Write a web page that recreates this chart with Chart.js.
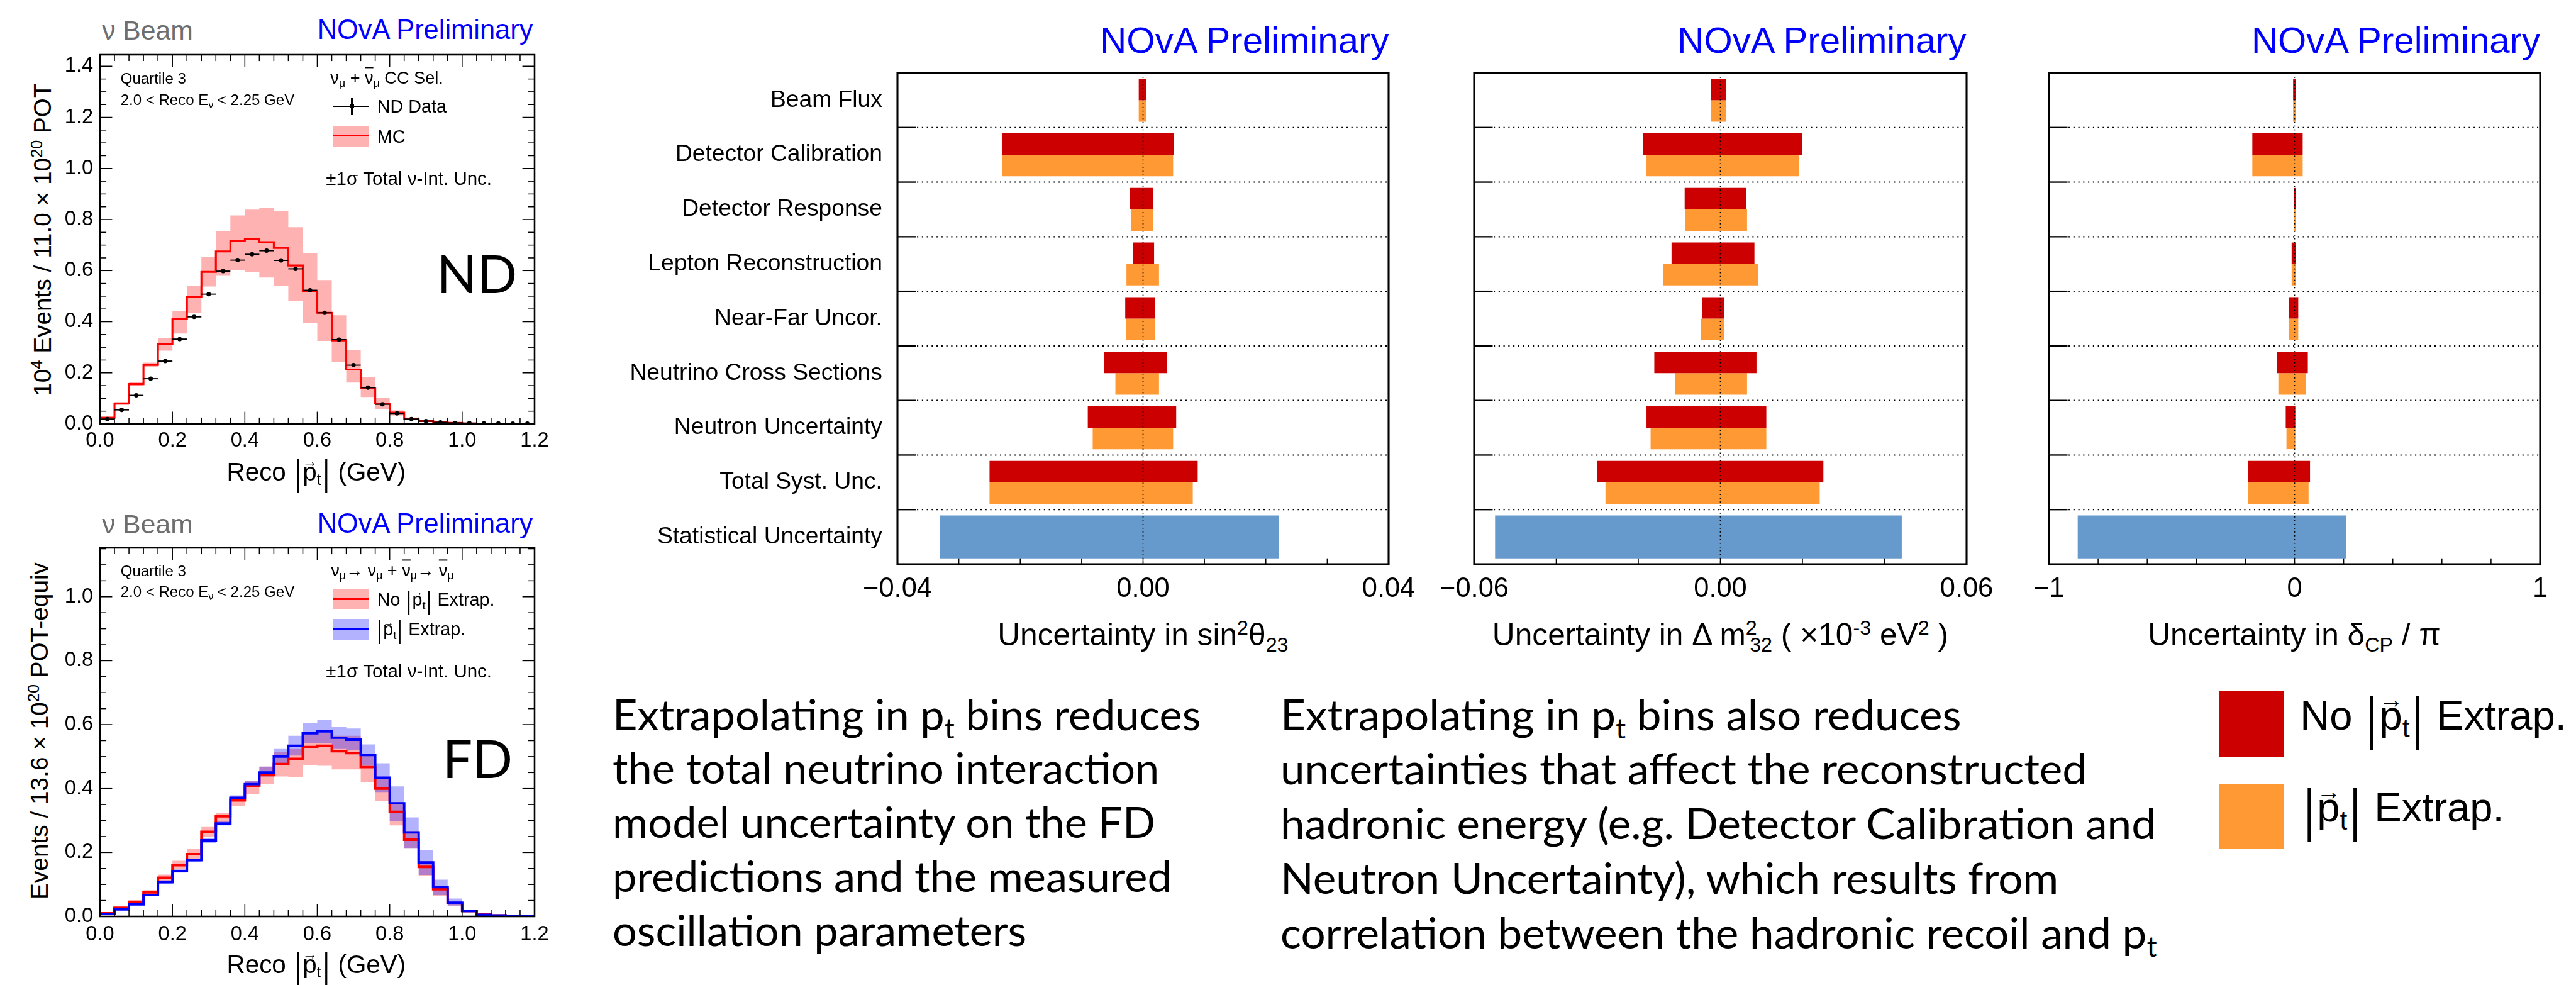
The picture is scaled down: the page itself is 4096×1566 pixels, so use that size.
<!DOCTYPE html>
<html>
<head>
<meta charset="utf-8">
<script src="https://cdn.jsdelivr.net/npm/chart.js@4.4.0/dist/chart.umd.min.js"></script>
<style>
  html, body { margin: 0; padding: 0; background: #fff; }
  #page { position: relative; width: 4096px; height: 1566px; overflow: hidden; background: #fff; }
  canvas { position: absolute; }
  .t { position: absolute; white-space: nowrap; line-height: 1; font-family: "Liberation Sans", Arial, sans-serif; color: #000; }
  .t sub, .t sup { font-size: 0.65em; position: relative; vertical-align: baseline; line-height: 0; }
  .t sub { top: 0.3em; }
  .t sup { top: -0.55em; }
  .vec { position: relative; display: inline-block; }
  .vec .arr { position: absolute; left: -0.02em; top: -0.33em; font-size: 0.6em; }
  .bar { display: inline-block; transform: translateY(0.06em) scaleY(1.43); margin: 0 0.06em; }
  .slide { font-family: Lato, "Open Sans", sans-serif; }
  .box { position: absolute; }
</style>
</head>
<body>
<div id="page"></div>
<script>
// Reference is 5276x2017; everything is laid out in reference pixels and scaled by S.
const S = 0.776;
const px = (v) => v * S;

// |pt| binning shared by the ND and FD histograms
const PT_MIN = 0.0, PT_MAX = 1.2, PT_BIN = 0.04;
const PT_TICKS = [0, 0.2, 0.4, 0.6, 0.8, 1.0, 1.2];

// ND: 10^4 events / 11.0e20 POT, one value per bin
const ND_MC = [0.024, 0.080, 0.156, 0.231, 0.312, 0.410, 0.497, 0.595, 0.675, 0.715, 0.724, 0.711, 0.689, 0.620, 0.519,
  0.435, 0.327, 0.213, 0.140, 0.080, 0.044, 0.021, 0.011, 0.006, 0.004, 0.002, 0.001, 0.001, 0.001, 0.000];
const ND_MC_UP = [0.030, 0.086, 0.164, 0.240, 0.335, 0.442, 0.540, 0.655, 0.755, 0.816, 0.839, 0.846, 0.833, 0.770, 0.667,
  0.563, 0.425, 0.289, 0.182, 0.103, 0.053, 0.025, 0.013, 0.007, 0.005, 0.003, 0.002, 0.001, 0.001, 0.001];
const ND_MC_DN = [0.018, 0.074, 0.148, 0.222, 0.287, 0.354, 0.433, 0.538, 0.580, 0.601, 0.596, 0.573, 0.540, 0.482, 0.394,
  0.325, 0.243, 0.162, 0.105, 0.059, 0.033, 0.016, 0.009, 0.005, 0.003, 0.001, 0.001, 0.000, 0.000, 0.000];
const ND_DATA = [0.019, 0.055, 0.112, 0.177, 0.246, 0.332, 0.419, 0.508, 0.598, 0.641, 0.664, 0.678, 0.640, 0.607, 0.523,
  0.435, 0.330, 0.230, 0.142, 0.077, 0.041, 0.019, 0.011, 0.006, 0.004, 0.003, 0.002, 0.002, 0.001, 0.001];
const ND_Y_MAX = 1.445;
const ND_Y_TICKS = [0, 0.2, 0.4, 0.6, 0.8, 1.0, 1.2, 1.4];

// FD: events / 13.6e20 POT-equiv, without and with |pt| extrapolation
const FD_NOEX = [0.010, 0.027, 0.046, 0.075, 0.121, 0.160, 0.195, 0.265, 0.313, 0.363, 0.407, 0.442, 0.477, 0.493, 0.530,
  0.534, 0.517, 0.511, 0.467, 0.400, 0.327, 0.240, 0.155, 0.085, 0.041, 0.017, 0.006, 0.003, 0.002, 0.001];
const FD_NOEX_UP = [0.012, 0.029, 0.050, 0.082, 0.131, 0.174, 0.212, 0.280, 0.323, 0.375, 0.423, 0.469, 0.515, 0.524, 0.570,
  0.575, 0.565, 0.565, 0.508, 0.435, 0.354, 0.267, 0.173, 0.094, 0.048, 0.019, 0.007, 0.004, 0.002, 0.001];
const FD_NOEX_DN = [0.008, 0.025, 0.042, 0.067, 0.112, 0.147, 0.178, 0.250, 0.294, 0.346, 0.383, 0.413, 0.438, 0.436, 0.474,
  0.471, 0.460, 0.460, 0.419, 0.362, 0.285, 0.214, 0.126, 0.065, 0.034, 0.013, 0.005, 0.002, 0.001, 0.000];
const FD_EX = [0.008, 0.022, 0.038, 0.067, 0.107, 0.142, 0.176, 0.238, 0.291, 0.371, 0.414, 0.450, 0.500, 0.534, 0.573,
  0.579, 0.559, 0.553, 0.505, 0.434, 0.354, 0.263, 0.169, 0.092, 0.043, 0.017, 0.005, 0.003, 0.002, 0.001];
const FD_EX_UP = [0.010, 0.024, 0.041, 0.071, 0.113, 0.147, 0.181, 0.246, 0.297, 0.379, 0.423, 0.469, 0.524, 0.565, 0.606,
  0.615, 0.592, 0.588, 0.538, 0.479, 0.407, 0.310, 0.208, 0.115, 0.056, 0.021, 0.007, 0.004, 0.002, 0.001];
const FD_EX_DN = [0.006, 0.020, 0.035, 0.063, 0.101, 0.137, 0.170, 0.229, 0.285, 0.363, 0.405, 0.438, 0.477, 0.503, 0.541,
  0.543, 0.524, 0.521, 0.471, 0.389, 0.298, 0.214, 0.130, 0.067, 0.034, 0.013, 0.004, 0.002, 0.001, 0.000];
const FD_Y_MAX = 1.153;
const FD_Y_TICKS = [0, 0.2, 0.4, 0.6, 0.8, 1.0];

// Systematic breakdown: [low, high] shift per source
const SYST_LABELS = ["Beam Flux", "Detector Calibration", "Detector Response", "Lepton Reconstruction", "Near-Far Uncor.",
  "Neutrino Cross Sections", "Neutron Uncertainty", "Total Syst. Unc.", "Statistical Uncertainty"];

const SIN_NOEX = [[-0.0007, 0.0005], [-0.0230, 0.0050], [-0.0021, 0.0016], [-0.0016, 0.0018], [-0.0029, 0.0019],
  [-0.0063, 0.0039], [-0.0090, 0.0054], [-0.0250, 0.0089]];
const SIN_EX = [[-0.0007, 0.0005], [-0.0230, 0.0049], [-0.0020, 0.0016], [-0.0027, 0.0026], [-0.0028, 0.0019],
  [-0.0045, 0.0026], [-0.0082, 0.0049], [-0.0250, 0.0081]];
const SIN_STAT = [-0.0331, 0.0221];
const SIN_TICKS = [-0.04, 0, 0.04];

const DM_NOEX = [[-0.0023, 0.0013], [-0.0189, 0.0200], [-0.0087, 0.0063], [-0.0119, 0.0083], [-0.0045, 0.0009],
  [-0.0161, 0.0088], [-0.0180, 0.0112], [-0.0300, 0.0251]];
const DM_EX = [[-0.0023, 0.0013], [-0.0180, 0.0191], [-0.0085, 0.0065], [-0.0139, 0.0092], [-0.0047, 0.0009],
  [-0.0110, 0.0065], [-0.0170, 0.0112], [-0.0280, 0.0242]];
const DM_STAT = [-0.0549, 0.0442];
const DM_TICKS = [-0.06, 0, 0.06];

const DCP_NOEX = [[-0.006, 0.006], [-0.172, 0.033], [-0.003, 0.006], [-0.012, 0.006], [-0.024, 0.015],
  [-0.072, 0.054], [-0.036, 0.003], [-0.190, 0.063]];
const DCP_EX = [[-0.006, 0.006], [-0.172, 0.033], [-0.003, 0.006], [-0.012, 0.006], [-0.024, 0.015],
  [-0.066, 0.045], [-0.033, 0.003], [-0.190, 0.057]];
const DCP_STAT = [-0.883, 0.211];
const DCP_TICKS = [-1, 0, 1];

const RED = "#cc0000", ORANGE = "#ff9933", STATBLUE = "#6699cc";
const ROOT_FONT = '"Liberation Sans", Arial, sans-serif';

const page = document.getElementById("page");

function text(html, x, y, size, opt = {}) {
  const el = document.createElement("div");
  el.className = "t " + (opt.cls || "");
  el.innerHTML = html;
  el.style.left = px(x) + "px";
  el.style.top = px(y) + "px";
  el.style.fontSize = px(size) + "px";
  el.style.color = opt.color || "#000";
  const dx = opt.align === "right" ? "-100%" : opt.align === "center" ? "-50%" : "0";
  el.style.transform = `translate(${dx},-50%)` + (opt.extra || "");
  page.appendChild(el);
  return el;
}

function rect(x, y, w, h, color) {
  const el = document.createElement("div");
  el.className = "box";
  el.style.left = px(x) + "px";
  el.style.top = px(y) + "px";
  el.style.width = px(w) + "px";
  el.style.height = px(h) + "px";
  el.style.background = color;
  page.appendChild(el);
}

function makeCanvas(box) {
  const c = document.createElement("canvas");
  const l = Math.round(px(box[0])), t = Math.round(px(box[1]));
  const w = Math.round(px(box[0] + box[2])) - l, h = Math.round(px(box[1] + box[3])) - t;
  c.width = w; c.height = h;
  c.style.left = l + "px"; c.style.top = t + "px";
  c.style.width = w + "px"; c.style.height = h + "px";
  page.appendChild(c);
  return { c, l, t, w, h };
}

function frameBox(f) {
  return { l: Math.round(px(f[0])), t: Math.round(px(f[1])), r: Math.round(px(f[2])), b: Math.round(px(f[3])) };
}

// keep tick labels from pushing the plot area around: the frame is placed by hand
function noLabelPadding(sc) {
  sc.paddingTop = 0; sc.paddingBottom = 0; sc.paddingLeft = 0; sc.paddingRight = 0;
}

function stepValues(min, max, step) {
  const n = Math.floor((max - min) / step + 1e-6), out = [];
  for (let i = 0; i <= n; i++) out.push(min + i * step);
  return out;
}

function line(ctx, x1, y1, x2, y2) {
  ctx.beginPath(); ctx.moveTo(x1, y1); ctx.lineTo(x2, y2); ctx.stroke();
}

// ROOT-style frame with inward ticks on all four sides
const rootFrame = {
  id: "rootFrame",
  afterDatasetsDraw(chart, args, o) {
    const { ctx, chartArea: a, scales: { x, y } } = chart;
    ctx.save();
    ctx.strokeStyle = "#000";
    ctx.lineWidth = px(2);
    stepValues(x.min, x.max, o.xStep).forEach((v, i) => {
      const p = x.getPixelForValue(v), len = px(i % o.xMajor === 0 ? 25 : 13);
      line(ctx, p, a.bottom, p, a.bottom - len);
      line(ctx, p, a.top, p, a.top + len);
    });
    stepValues(y.min, y.max, o.yStep).forEach((v, i) => {
      const p = y.getPixelForValue(v), len = px(i % o.yMajor === 0 ? 25 : 13);
      line(ctx, a.left, p, a.left + len, p);
      line(ctx, a.right, p, a.right - len, p);
    });
    ctx.lineWidth = px(3.3);
    ctx.strokeRect(a.left, a.top, a.right - a.left, a.bottom - a.top);
    ctx.restore();
  },
};

// horizontal bin-width bars through the data points
const errorBars = {
  id: "errorBars",
  afterDatasetsDraw(chart) {
    const { ctx, scales: { x, y } } = chart;
    chart.data.datasets.forEach((ds) => {
      if (!ds.xErr) return;
      ctx.save();
      ctx.strokeStyle = "#000";
      ctx.lineWidth = px(2.5);
      ds.data.forEach((p) => {
        const py = y.getPixelForValue(p.y);
        line(ctx, x.getPixelForValue(p.x - ds.xErr), py, x.getPixelForValue(p.x + ds.xErr), py);
      });
      ctx.restore();
    });
  },
};

// frame, dotted separators, zero line and ticks for the systematics panels
const systFrame = {
  id: "systFrame",
  afterDatasetsDraw(chart, args, o) {
    const { ctx, chartArea: a, scales: { x, y } } = chart;
    const n = chart.data.labels.length;
    const seps = [];
    for (let i = 0; i < n - 1; i++) seps.push((y.getPixelForValue(i) + y.getPixelForValue(i + 1)) / 2);
    ctx.save();
    ctx.strokeStyle = "#000";
    ctx.lineWidth = px(2.7);
    ctx.setLineDash([px(2.7), px(7.3)]);
    seps.forEach((s) => line(ctx, a.left + px(40), s, a.right, s));
    ctx.lineWidth = px(2.2);
    ctx.setLineDash([px(2.2), px(5.5)]);
    const x0 = x.getPixelForValue(0);
    line(ctx, x0, a.top, x0, a.bottom);
    ctx.setLineDash([]);
    ctx.lineWidth = px(3);
    seps.forEach((s) => line(ctx, a.left, s, a.left + px(38), s));
    ctx.lineWidth = px(2);
    stepValues(x.min, x.max, o.xStep).forEach((v) => {
      const p = x.getPixelForValue(v);
      line(ctx, p, a.bottom, p, a.bottom - px(12));
    });
    ctx.lineWidth = px(4);
    ctx.strokeRect(a.left, a.top, a.right - a.left, a.bottom - a.top);
    ctx.restore();
  },
};

const steps = (vals) => vals.map((v, i) => ({ x: PT_MIN + i * PT_BIN, y: v })).concat([{ x: PT_MAX, y: vals[vals.length - 1] }]);
const centres = (vals) => vals.map((v, i) => ({ x: PT_MIN + (i + 0.5) * PT_BIN, y: v }));

function stepLine(vals, color, width, order) {
  return { data: steps(vals), borderColor: color, borderWidth: px(width), stepped: "before", pointRadius: 0, fill: false, order };
}
function bandTop(vals, color, order) {
  return { data: steps(vals), borderColor: "rgba(0,0,0,0)", borderWidth: 1, backgroundColor: color, stepped: "before", pointRadius: 0, fill: "+1", order };
}
function bandBottom(vals, order) {
  return { data: steps(vals), borderColor: "rgba(0,0,0,0)", borderWidth: 1, stepped: "before", pointRadius: 0, fill: false, order };
}

function histogram(box, frame, yMax, yTicks, datasets, tickPad) {
  const g = makeCanvas(box), f = frameBox(frame);
  return new Chart(g.c, {
    type: "line",
    data: { datasets },
    options: {
      responsive: false, animation: false, events: [],
      layout: { autoPadding: false, padding: { top: f.t - g.t, right: g.l + g.w - f.r, left: 0, bottom: 0 } },
      plugins: { legend: { display: false }, tooltip: { enabled: false }, rootFrame: { xStep: 0.04, xMajor: 5, yStep: 0.05, yMajor: 4 } },
      scales: {
        x: {
          type: "linear", min: PT_MIN, max: PT_MAX,
          grid: { display: false, drawTicks: false }, border: { display: false },
          afterBuildTicks: (sc) => { sc.ticks = PT_TICKS.map((v) => ({ value: v })); },
          afterFit: (sc) => { sc.height = g.t + g.h - f.b; noLabelPadding(sc); },
          ticks: { padding: px(tickPad), color: "#000", maxRotation: 0, autoSkip: false,
            font: { family: ROOT_FONT, size: px(42) }, callback: (v) => v.toFixed(1) },
        },
        y: {
          type: "linear", min: 0, max: yMax,
          grid: { display: false, drawTicks: false }, border: { display: false },
          afterBuildTicks: (sc) => { sc.ticks = yTicks.map((v) => ({ value: v })); },
          afterFit: (sc) => { sc.width = f.l - g.l; noLabelPadding(sc); },
          ticks: { padding: px(14), color: "#000", autoSkip: false,
            font: { family: ROOT_FONT, size: px(42) }, callback: (v) => v.toFixed(1) },
        },
      },
    },
    plugins: [rootFrame, errorBars],
  });
}

function systChart(box, frame, range, ticks, decimals, minorStep, noex, ex, stat, showLabels) {
  const g = makeCanvas(box), f = frameBox(frame);
  const fmt = (v) => (v < 0 ? "\u2212" : "") + Math.abs(v).toFixed(decimals);
  return new Chart(g.c, {
    type: "bar",
    data: {
      labels: SYST_LABELS,
      datasets: [
        { data: noex.concat([null]), backgroundColor: RED },
        { data: ex.concat([null]), backgroundColor: ORANGE },
        { data: noex.map(() => null).concat([stat]), backgroundColor: STATBLUE },
      ],
    },
    options: {
      indexAxis: "y", responsive: false, animation: false, events: [],
      datasets: { bar: { skipNull: true, categoryPercentage: 0.786, barPercentage: 1.0, borderWidth: 0 } },
      layout: { autoPadding: false, padding: { top: f.t - g.t, right: g.l + g.w - f.r, left: 0, bottom: 0 } },
      plugins: { legend: { display: false }, tooltip: { enabled: false }, systFrame: { xStep: minorStep } },
      scales: {
        x: {
          type: "linear", min: range[0], max: range[1],
          grid: { display: false, drawTicks: false }, border: { display: false },
          afterBuildTicks: (sc) => { sc.ticks = ticks.map((v) => ({ value: v })); },
          afterFit: (sc) => { sc.height = g.t + g.h - f.b; noLabelPadding(sc); },
          ticks: { padding: px(18), color: "#000", maxRotation: 0, autoSkip: false,
            font: { family: ROOT_FONT, size: px(56) }, callback: (v) => fmt(v) },
        },
        y: {
          grid: { display: false, drawTicks: false }, border: { display: false },
          afterFit: (sc) => { sc.width = f.l - g.l; noLabelPadding(sc); },
          ticks: { display: showLabels, padding: px(31), color: "#000", autoSkip: false,
            font: { family: ROOT_FONT, size: px(48) } },
        },
      },
    },
    plugins: [systFrame],
  });
}

// ---------------- ND histogram ----------------
histogram([120, 95, 1010, 850], [205, 112, 1095, 869], ND_Y_MAX, ND_Y_TICKS, [
  { data: centres(ND_DATA), showLine: false, pointRadius: px(4.5), pointBackgroundColor: "#000",
    pointBorderWidth: 0, xErr: PT_BIN / 2, order: 0 },
  stepLine(ND_MC, "#ff0000", 4, 1),
  bandTop(ND_MC_UP, "rgba(255,0,0,0.3)", 3),
  bandBottom(ND_MC_DN, 2),
], 10);

// ---------------- FD histogram ----------------
histogram([120, 1100, 1010, 917], [205, 1123, 1095, 1878], FD_Y_MAX, FD_Y_TICKS, [
  bandTop(FD_NOEX_UP, "rgba(255,0,0,0.3)", 6),
  bandBottom(FD_NOEX_DN, 5),
  bandTop(FD_EX_UP, "rgba(0,0,255,0.3)", 4),
  bandBottom(FD_EX_DN, 3),
  stepLine(FD_NOEX, "#ff0000", 5, 2),
  stepLine(FD_EX, "#0000ff", 5, 1),
], 12);

// ---------------- systematics panels ----------------
systChart([1150, 130, 1760, 1130], [1839, 149, 2846, 1156], [-0.04, 0.04], SIN_TICKS, 2, 0.01, SIN_NOEX, SIN_EX, SIN_STAT, true);
systChart([2950, 130, 1140, 1130], [3021, 149, 4029, 1156], [-0.06, 0.06], DM_TICKS, 2, 0.02, DM_NOEX, DM_EX, DM_STAT, false);
systChart([4140, 130, 1120, 1130], [4198, 149, 5205, 1156], [-1, 1], DCP_TICKS, 0, 0.2, DCP_NOEX, DCP_EX, DCP_STAT, false);

// ---------------- texts ----------------
const PT = '<span class="bar">|</span><span class="vec">p<span class="arr">\u2192</span></span><sub>t</sub><span class="bar">|</span>';
const NUBAR = '<span style="text-decoration:overline">\u03bd</span>';
const BLUE = "#0000ff", GREY = "#6e6e6e";

// ND panel
text("\u03bd Beam", 209, 62, 55, { color: GREY });
text("NOvA Preliminary", 1092, 62, 56, { color: BLUE, align: "right" });
text("Quartile 3", 247, 161, 31);
text("2.0 &lt; Reco E<sub>\u03bd</sub> &lt; 2.25 GeV", 247, 205, 31);
text("\u03bd<sub>\u03bc</sub> + " + NUBAR + "<sub>\u03bc</sub> CC Sel.", 677, 160, 35);
rect(683, 216.5, 74, 3, "#000");
rect(719.5, 201, 3, 35, "#000");
rect(717, 214, 8, 8, "#000");
text("ND Data", 773, 218, 37);
rect(683, 258, 74, 43, "rgba(255,0,0,0.3)");
rect(683, 276, 74, 4, "#ff0000");
text("MC", 773, 279, 37);
text("\u00b11\u03c3 Total \u03bd-Int. Unc.", 668, 366, 38);
text("ND", 895, 559, 108, { cls: "slide" });
text("Reco " + PT + " (GeV)", 648, 966, 52, { align: "center" });
text("10<sup>4</sup> Events / 11.0 \u00d7 10<sup>20</sup> POT", 88, 491, 50, { align: "center", extra: " rotate(-90deg)" });

// FD panel
text("\u03bd Beam", 209, 1074, 55, { color: GREY });
text("NOvA Preliminary", 1092, 1074, 56, { color: BLUE, align: "right" });
text("Quartile 3", 247, 1170, 31);
text("2.0 &lt; Reco E<sub>\u03bd</sub> &lt; 2.25 GeV", 247, 1213, 31);
text("\u03bd<sub>\u03bc</sub>\u2192 \u03bd<sub>\u03bc</sub> + " + NUBAR + "<sub>\u03bc</sub>\u2192 " + NUBAR + "<sub>\u03bc</sub>", 678, 1169, 35);
rect(683, 1207, 74, 42, "rgba(255,0,0,0.3)");
rect(683, 1226, 74, 4, "#ff0000");
text("No " + PT + " Extrap.", 773, 1228, 37);
rect(683, 1268, 74, 43, "rgba(0,0,255,0.3)");
rect(683, 1287, 74, 4, "#0000ff");
text(PT + " Extrap.", 771, 1289, 37);
text("\u00b11\u03c3 Total \u03bd-Int. Unc.", 668, 1375, 38);
text("FD", 907, 1553, 108, { cls: "slide" });
text("Reco " + PT + " (GeV)", 648, 1975, 52, { align: "center" });
text("Events / 13.6 \u00d7 10<sup>20</sup> POT-equiv", 81, 1498, 50, { align: "center", extra: " rotate(-90deg)" });

// systematics titles
text("NOvA Preliminary", 2846, 83, 75, { color: BLUE, align: "right" });
text("NOvA Preliminary", 4029, 83, 75, { color: BLUE, align: "right" });
text("NOvA Preliminary", 5205, 83, 75, { color: BLUE, align: "right" });
text("Uncertainty in sin<sup>2</sup>\u03b8<sub>23</sub>", 2342, 1302, 64, { align: "center" });
text("Uncertainty in \u0394 m<sup>2</sup><sub style=\"margin-left:-0.36em\">32</sub> ( \u00d710<sup>-3</sup> eV<sup>2</sup> )", 3525, 1302, 64, { align: "center" });
text("Uncertainty in \u03b4<sub>CP</sub> / \u03c0", 4701, 1302, 64, { align: "center" });

// slide text blocks, squeezed horizontally to the reference widths
function slideBlock(lines, x, y0, gap, size, refWidth, refLine) {
  const els = lines.map((l, i) => text(l, x, y0 + i * gap, size, { cls: "slide" }));
  const k = px(refWidth) / els[refLine].offsetWidth;
  els.forEach((e) => { e.style.transformOrigin = "0 50%"; e.style.transform = `translate(0,-50%) scaleX(${k})`; });
}
slideBlock(["Extrapolating in p<sub>t</sub> bins reduces", "the total neutrino interaction", "model uncertainty on the FD",
  "predictions and the measured", "oscillation parameters"], 1255, 1462, 110.6, 88, 1206, 0);
slideBlock(["Extrapolating in p<sub>t</sub> bins also reduces", "uncertainties that affect the reconstructed",
  "hadronic energy (e.g. Detector Calibration and", "Neutron Uncertainty), which results from",
  "correlation between the hadronic recoil and p<sub>t</sub>"], 2624, 1462, 112, 88, 1794, 2);

// legend for the systematics panels
rect(4547, 1416, 134, 135, RED);
rect(4547, 1606, 134, 134, ORANGE);
text("No " + PT + " Extrap.", 4713, 1466, 84);
text(PT + " Extrap.", 4716, 1655, 84);
</script>
</body>
</html>
